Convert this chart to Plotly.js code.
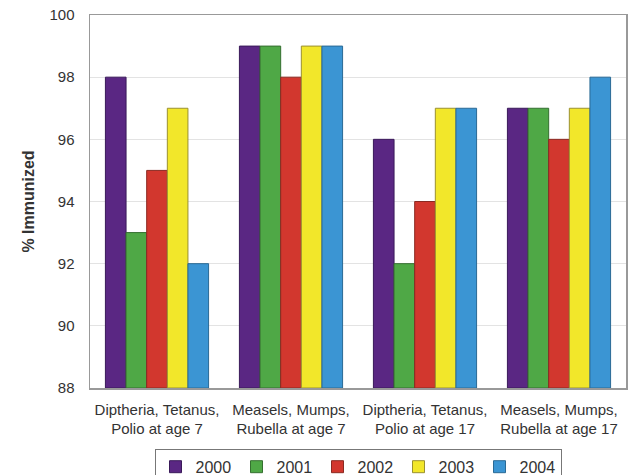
<!DOCTYPE html>
<html><head><meta charset="utf-8">
<script src="https://cdn.plot.ly/plotly-3.0.1.min.js"></script>
<style>body{margin:0;background:#fff}#chart{width:631px;height:475px}</style>
</head><body><div id="chart"></div>
<script>
const categories = ["Diptheria, Tetanus,<br>Polio at age 7","Measels, Mumps,<br>Rubella at age 7","Diptheria, Tetanus,<br>Polio at age 17","Measels, Mumps,<br>Rubella at age 17"];
const years = ["2000","2001","2002","2003","2004"];
const v2000 = [98, 99, 96, 97];
const v2001 = [93, 99, 92, 97];
const v2002 = [95, 98, 94, 96];
const v2003 = [97, 99, 97, 97];
const v2004 = [92, 99, 97, 98];
const yTicks = [88, 90, 92, 94, 96, 98, 100];
const colors = ["#5a2783","#4fa846","#d2372e","#f2e72a","#3b95d3"];
const lineColors = ["#3a1a5a","#356f30","#8a2a22","#9a9030","#2a6a95"];
const series = [v2000, v2001, v2002, v2003, v2004];
const traces = series.map((s, i) => ({
  type: "bar", name: years[i], x: categories, y: s.map(v => v - 88), base: 88,
  marker: {color: colors[i], line: {color: lineColors[i], width: 1}},
  hoverinfo: "skip"
}));
const layout = {
  width: 631, height: 475,
  margin: {l: 90, r: 5, t: 15, b: 87, autoexpand: false},
  paper_bgcolor: "#fff", plot_bgcolor: "#fff",
  font: {family: "Liberation Sans, Arial, sans-serif", size: 12, color: "#333"},
  barmode: "group", bargap: 0.23, bargroupgap: 0,
  xaxis: {showline: true, linecolor: "#999", mirror: true, linewidth: 1.5, ticks: "", tickfont: {size: 15}, ticklabelstandoff: 7, fixedrange: true, automargin: false},
  yaxis: {range: [88, 100], tickvals: yTicks, ticktext: yTicks.map(String), showline: true, linecolor: "#999", linewidth: 1.5, mirror: true,
    showgrid: true, gridcolor: "#e3e3e3", zeroline: false, ticks: "", ticklen: 0, tickfont: {size: 15}, ticklabelstandoff: 11, automargin: false,
    title: {text: "<b>% Immunized</b>", font: {size: 16}, standoff: 11}},
  legend: {orientation: "h", x: 0.5, xanchor: "center", y: -0.163, yanchor: "top",
    bordercolor: "#777", borderwidth: 1, font: {size: 16}, itemwidth: 30, traceorder: "normal",
    entrywidth: 36, entrywidthmode: "pixels"},
  showlegend: true
};
Plotly.newPlot("chart", traces, layout, {displayModeBar: false, staticPlot: true});
</script></body></html>
